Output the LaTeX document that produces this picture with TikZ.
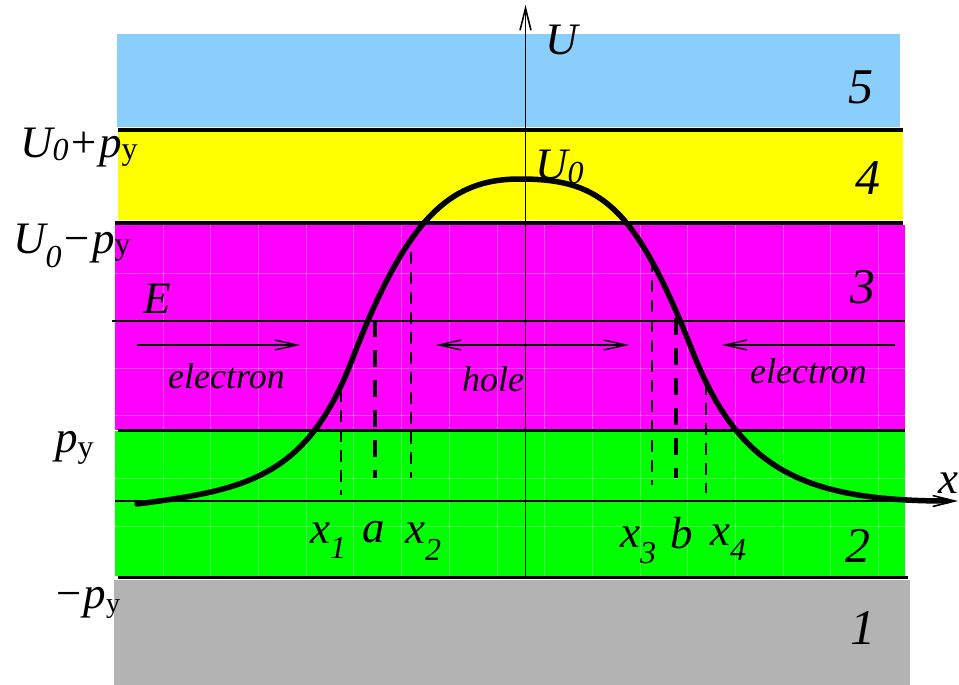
\documentclass[tikz,border=0pt]{standalone}
\usepackage{fontspec}
\setmainfont{Liberation Serif}
\usetikzlibrary{arrows.meta}
\definecolor{bandblue}{RGB}{138,207,252}
\definecolor{bandyellow}{RGB}{255,255,0}
\definecolor{bandmag}{RGB}{255,0,255}
\definecolor{bandgreen}{RGB}{0,255,0}
\definecolor{bandgray}{RGB}{179,179,179}
\newcommand\sbx[3]{\raisebox{#1}{\fontsize{#2}{#2}\selectfont #3}}
\begin{document}
\begin{tikzpicture}[x=1pt,y=-1pt,
  lab/.style={inner sep=0pt, anchor=base west, font=\fontsize{45}{45}\selectfont\itshape},
  num/.style={inner sep=0pt, anchor=base west, font=\fontsize{50}{50}\selectfont\itshape},
  word/.style={inner sep=0pt, anchor=base west, font=\fontsize{36}{36}\selectfont\itshape},
  sep/.style={line width=3.5pt, black},
  gridl/.style={white, opacity=0.3, line width=0.8pt},
  axis/.style={line width=1.6pt, -{Straight Barb[length=22pt,width=11pt,line width=1.6pt]}},
  move/.style={line width=1.4pt, -{Straight Barb[length=22pt,width=10pt,line width=1.4pt]}},
  thindash/.style={line width=1.6pt, dash pattern=on 12pt off 8pt},
  thickdash/.style={line width=3.8pt, dash pattern=on 17pt off 13pt},
  curve/.style={line width=5.5pt, line cap=round, line join=round}]
\useasboundingbox (0,0) rectangle (959,685);
% bands
\fill[bandblue] (117,34) rectangle (900,127);
\fill[bandyellow] (118,132) rectangle (903,220);
\fill[bandmag] (115,225) rectangle (905,430);
\fill[bandgreen] (115,431) rectangle (905,576);
\fill[bandgray] (114,580) rectangle (910,685);
% faint grid
\foreach \k in {0,...,15} {
  \draw[gridl] ({163+47.7*\k},225) -- ({163+47.7*\k},430);
  \draw[gridl] ({163+47.7*\k},432) -- ({163+47.7*\k},576);
}
\foreach \yy in {273,368,415} \draw[gridl] (115,\yy) -- (905,\yy);
\foreach \yy in {478,526} \draw[gridl] (115,\yy) -- (905,\yy);
% separators
\draw[sep] (118,130) -- (903,130);
\draw[sep] (115,223) -- (903,223);
\draw[sep] (118,430.5) -- (905,430.5);
\draw[sep] (118,577.5) -- (908,577.5);
% E line
\draw[line width=1.3pt] (112,321) -- (905,321);
% axes
\coordinate (xs) at (115,501);
\coordinate (xe) at (958,501);
\coordinate (us) at (525.5,577);
\coordinate (ue) at (525.5,5);
\draw[axis] (xs) -- (xe);
\draw[axis] (us) -- (ue);
% dashed lines
\draw[thindash] (341,390) -- (341,495);
\draw[thickdash] (375,320) -- (375,478);
\draw[thindash] (411,252) -- (411,478);
\draw[thindash] (652,260) -- (652,485);
\draw[thickdash] (676,318) -- (676,478);
\draw[thindash] (706,383) -- (706,493);
% movement arrows
\coordinate (el1s) at (137,345); \coordinate (el1e) at (300,345);
\coordinate (hs) at (436,345); \coordinate (he) at (629,345);
\coordinate (el2s) at (895,345); \coordinate (el2e) at (722,345);
\draw[move] (el1s) -- (el1e);
\draw[line width=1.4pt, {Straight Barb[length=22pt,width=10pt,line width=1.4pt]}-{Straight Barb[length=22pt,width=10pt,line width=1.4pt]}] (hs) -- (he);
\draw[move] (el2s) -- (el2e);
% potential curve
\coordinate (c0) at (137,504);
\coordinate (cl) at (352,360);
\coordinate (ct) at (520,179);
\coordinate (cr) at (692,350);
\coordinate (ce) at (947,501);
\draw[curve] (c0) .. controls (247,490) and (307,477) .. (cl)
  .. controls (407,217) and (450,179) .. (ct)
  .. controls (600,179) and (635,205) .. (cr)
  .. controls (737,465) and (797,501) .. (ce);
% labels
\node[lab] (lU) at (545,55) {U};
\node[lab] (lU0) at (535,179) {U\sbx{-4pt}{32}{0}};
\node[lab] (lE) at (143,313) {E};
\node[lab] (lx) at (938,493) {x};
\node[lab] (lup) at (20,157) {U\sbx{-3pt}{32}{0}+p\sbx{-2pt}{32}{\upshape y}};
\node[lab] (lum) at (13,253) {U\sbx{-14pt}{32}{0}−p\sbx{-1pt}{32}{\upshape y}};
\node[lab] (lpy) at (55,452) {p\sbx{-5pt}{32}{\upshape y}};
\node[lab] (lmpy) at (53,608) {−p\sbx{-4pt}{28}{\upshape y}};
\node[lab] (lx1) at (310,543) {x\sbx{-15pt}{32}{1}};
\node[lab] (la) at (362,542) {a};
\node[lab] (lx2) at (405,543) {x\sbx{-17pt}{32}{2}};
\node[lab] (lx3) at (620,547) {x\sbx{-16pt}{32}{3}};
\node[lab] (lb) at (670,548) {b};
\node[lab] (lx4) at (710,545) {x\sbx{-15pt}{32}{4}};
\node[num] (n5) at (848,103) {5};
\node[num] (n4) at (855,194) {4};
\node[num] (n3) at (850,303) {3};
\node[num] (n2) at (845,562) {2};
\node[num] (n1) at (850,644) {1};
\node[word] (we1) at (168,388) {electron};
\node[word] (wh) at (462,391) {hole};
\node[word] (we2) at (750,383) {electron};
\end{tikzpicture}
\end{document}
